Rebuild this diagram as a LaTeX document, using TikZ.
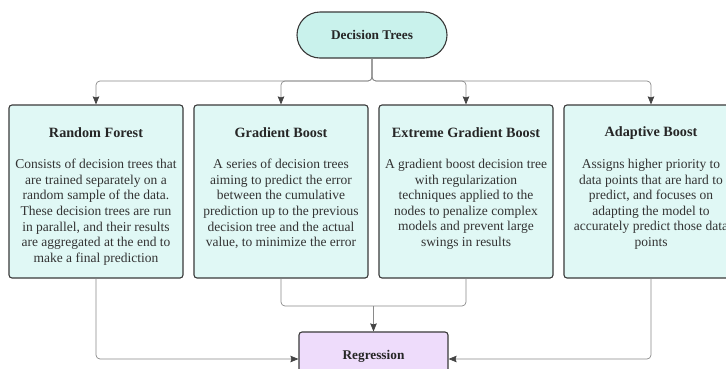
\documentclass[tikz,border=0pt]{standalone}
\usepackage{fontspec}
\setmainfont{Liberation Serif}
\usetikzlibrary{arrows.meta,calc}
\definecolor{pillfill}{HTML}{C9F2EC}
\definecolor{boxfill}{HTML}{E0F8F5}
\definecolor{regfill}{HTML}{EEDCFB}
\definecolor{edge}{HTML}{3A3A3A}
\definecolor{wire}{HTML}{8A8A8A}
\definecolor{tipc}{HTML}{444444}
\tikzset{
  pill/.style={draw=edge,line width=1.1pt,fill=pillfill,rounded corners=23pt,
    minimum width=150pt,minimum height=46pt,font=\bfseries\fontsize{13.3}{15}\selectfont,text=black!85},
  algobox/.style={draw=edge,line width=1.1pt,fill=boxfill,rounded corners=3pt,
    minimum width=174pt,minimum height=173pt,inner sep=0pt},
  regbox/.style={draw=edge,line width=1.1pt,fill=regfill,rounded corners=3pt,
    minimum width=149pt,minimum height=54pt},
  titletext/.style={font=\bfseries\fontsize{14.2}{16}\selectfont,text=black!85,inner sep=0pt},
  bodytext/.style={font=\fontsize{13.5}{15.6}\selectfont,text=black!80,align=center,inner sep=0pt,anchor=north},
  wireline/.style={draw=wire,line width=0.7pt,rounded corners=4pt},
  arrowed/.style={-{Stealth[length=8pt,width=6.5pt,inset=1pt,color=tipc]}}
}
\begin{document}
\begin{tikzpicture}[x=1pt,y=-1pt]
\useasboundingbox (0,0) rectangle (726,368);
\fill[white] (0,0) rectangle (726,368);

\node[pill] (top) at (372,35) {Decision Trees};

\node[algobox] (rf) at (96,191.5) {};
\node[algobox] (gb) at (281,191.5) {};
\node[algobox] (xgb) at (466,191.5) {};
\node[algobox] (ab) at (651,191.5) {};

\node[titletext] (rft) at (96,133) {Random Forest};
\node[titletext] (gbt) at (281,133) {Gradient Boost};
\node[titletext] (xgbt) at (466,133) {Extreme Gradient Boost};
\node[titletext] (abt) at (651,133) {Adaptive Boost};

\node[bodytext] (rfb) at (96,159) {Consists of decision trees that\\are trained separately on a\\random sample of the data.\\These decision trees are run\\in parallel, and their results\\are aggregated at the end to\\make a final prediction};
\node[bodytext] (gbb) at (281,159) {A series of decision trees\\aiming to predict the error\\between the cumulative\\prediction up to the previous\\decision tree and the actual\\value, to minimize the error};
\node[bodytext] (xgbb) at (466,159) {A gradient boost decision tree\\with regularization\\techniques applied to the\\nodes to penalize complex\\models and prevent large\\swings in results};
\node[bodytext] (abb) at (651,159) {Assigns higher priority to\\data points that are hard to\\predict, and focuses on\\adapting the model to\\accurately predict those data\\points};

\node[regbox] (reg) at (373.5,359) {};
\node[font=\bfseries\fontsize{13.3}{15}\selectfont,text=black!85] (regt) at (373.5,356) {Regression};

% fan-out from the root
\coordinate (split) at (372,81);
\foreach \b in {rf,gb,xgb,ab}
  \draw[wireline,arrowed] (top.south) -- (split) -| (\b.north);

% gather into regression
\coordinate (join) at (373.5,306);
\draw[wireline] (gb.south) |- (join);
\draw[wireline] (xgb.south) |- (join);
\draw[wireline,arrowed] (join) -- (reg.north);
\draw[wireline,arrowed] (rf.south) |- (reg.west);
\draw[wireline,arrowed] (ab.south) |- (reg.east);
\end{tikzpicture}
\end{document}
